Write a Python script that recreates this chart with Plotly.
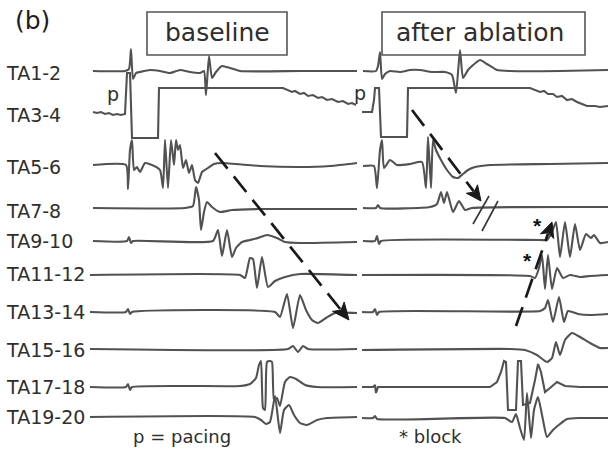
import plotly.graph_objects as go
import math

# ---------------- data (x = time position, y = trace level) -------------
channels = ["TA1-2", "TA3-4", "TA5-6", "TA7-8", "TA9-10", "TA11-12",
            "TA13-14", "TA15-16", "TA17-18", "TA19-20"]
label_y = [73, 115, 167, 211, 241, 274, 312, 350, 387, 417]

# baseline panel
b_ta1_2 = [(93,71),(125,71),(129,69),(131,49),(133,79),(136,73),(140,72),(150,70),(160,71),(170,73),
           (180,70),(190,72),(200,73),(204,71),(206,95),(209,56),(212,78),(216,72),(222,66),(230,68),
           (240,71),(300,71),(357,71)]
b_ta3_4 = [(93,112),(97,113),(101,112),(105,114),(109,113),(113,115),(117,114),(121,115),(125,114),
           (127,73),(130,73),(132,138),(158,138),(159,88),(283,88),(288,90),(292,92),(295,91),(300,94),
           (304,93),(308,96),(313,95),(318,98),(322,97),(327,100),(332,99),(338,102),(343,101),(348,104),
           (352,103),(356,105)]
b_ta5_6 = [(93,165),(126,165),(128,189),(130,150),(132,140),(134,170),(137,167),(140,172),(145,163),
           (152,165),(160,170),(163,188),(165,140),(168,188),(171,140),(174,165),(176,140),(178,150),
           (180,145),(183,168),(186,160),(189,173),(192,165),(195,180),(198,183),(202,172),(208,168),
           (214,164),(222,163),(260,166),(300,167),(330,166),(357,163)]
b_ta7_8 = [(93,208),(185,208),(193,206),(196,187),(199,200),(201,230),(204,212),(207,202),(212,207),
           (220,212),(232,210),(260,209),(357,209)]
b_ta9_10 = [(93,241),(127,241),(129,237),(131,243),(133,241),(213,241),(218,230),(222,256),(227,230),
            (232,257),(236,248),(242,242),(250,240),(258,238),(267,235),(277,238),(285,242),(300,243),
            (357,242)]
b_ta11_12 = [(90,275),(240,275),(245,278),(250,258),(253,259),(257,288),(262,257),(268,287),(275,281),
             (285,277),(300,274),(357,275)]
b_ta13_14 = [(90,312),(126,312),(128,309),(130,314),(132,312),(275,312),(280,317),(287,294),(293,328),
             (300,295),(306,310),(312,320),(318,323),(326,318),(335,313),(357,313)]
b_ta15_16 = [(90,349),(288,349),(293,346),(298,352),(303,346),(308,349),(357,349)]
b_ta17_18 = [(90,387),(126,387),(128,384),(130,390),(132,387),(240,386),(250,384),(256,378),(259,365),
             (261,361),(263,408),(265,410),(267,362),(270,361),(272,362),(274,400),(277,398),(280,406),
             (285,382),(290,377),(296,379),(305,385),(317,387),(357,387)]
b_ta19_20 = [(90,417),(255,417),(261,420),(266,424),(270,422),(275,396),(280,433),(284,410),(289,405),
             (294,415),(300,423),(307,425),(317,420),(327,418),(357,417)]

# after-ablation panel
a_ta1_2 = [(363,71),(376,71),(378,66),(380,52),(382,79),(385,74),(390,71),(400,72),(410,70),(420,70),
           (432,72),(445,72),(452,75),(456,93),(460,50),(463,78),(468,70),(472,66),(480,60),(487,64),
           (497,70),(510,71),(560,71),(608,70)]
a_ta3_4 = [(362,112),(372,112),(374,100),(375,88),(379,88),(381,137),(407,137),(408,88),(530,88),
           (535,90),(540,92),(544,91),(548,94),(553,94),(557,97),(562,96),(567,100),(572,99),(577,102),
           (582,104),(587,106),(595,106),(600,107),(608,106)]
a_ta5_6 = [(363,166),(374,166),(377,188),(380,150),(382,140),(384,168),(390,160),(397,165),(410,164),
           (422,162),(426,188),(428,137),(431,188),(433,140),(436,150),(441,160),(447,170),(453,177),
           (458,178),(463,174),(468,170),(475,167),(490,165),(550,164),(608,163)]
a_ta7_8 = [(363,208),(376,208),(378,205),(380,208),(430,207),(437,204),(441,192),(444,203),(447,192),
           (453,212),(459,201),(465,210),(472,208),(608,207)]
a_ta9_10 = [(363,241),(375,241),(377,236),(379,244),(381,241),(540,240),(547,240),(552,232),(556,222),
            (560,257),(565,222),(570,257),(575,224),(580,250),(586,234),(591,238),(594,235),(600,243),
            (608,242)]
a_ta11_12 = [(362,275),(530,276),(535,278),(539,268),(542,255),(545,289),(548,255),(552,289),(557,268),
             (563,278),(570,275),(580,277),(590,276),(608,275)]
a_ta13_14 = [(362,312),(373,312),(375,309),(377,315),(379,312),(540,311),(545,308),(548,300),(553,322),
             (559,297),(564,322),(568,311),(578,314),(590,315),(608,314)]
a_ta15_16 = [(362,350),(510,349),(525,350),(537,355),(547,362),(552,358),(556,342),(560,355),(565,340),
             (572,333),(580,337),(590,343),(600,348),(608,348)]
a_ta17_18 = [(362,387),(373,387),(375,385),(376,393),(378,387),(490,387),(497,382),(501,372),(504,361),
             (506,362),(508,410),(516,410),(518,361),(521,361),(523,405),(530,403),(535,380),(538,364),
             (541,372),(545,392),(550,388),(557,382),(565,386),(580,387),(608,387)]
a_ta19_20 = [(362,418),(373,418),(375,416),(377,419),(505,418),(512,422),(516,414),(520,428),(524,440),
             (527,393),(531,438),(534,410),(538,397),(543,420),(547,437),(553,430),(560,424),(567,419),
             (580,418),(608,418)]

baseline_traces = [b_ta1_2, b_ta3_4, b_ta5_6, b_ta7_8, b_ta9_10, b_ta11_12, b_ta13_14, b_ta15_16, b_ta17_18, b_ta19_20]
ablation_traces = [a_ta1_2, a_ta3_4, a_ta5_6, a_ta7_8, a_ta9_10, a_ta11_12, a_ta13_14, a_ta15_16, a_ta17_18, a_ta19_20]
pulse_traces = [b_ta3_4, a_ta3_4, a_ta17_18]   # saturated, square-edged recordings

# activation arrows (start, tip)
arrow_baseline = ((215, 153), (349, 320))
arrow_ablation = ((412, 110), (481, 201))
arrow_block = ((516, 326), (552, 222))
block_slashes = [((473, 224), (489, 196)), ((482, 231), (498, 201))]
stars = [(537, 221), (527, 256)]

# ---------------- figure ----------------
TRACE_COLOR = "#525252"
TEXT_COLOR = "#2e2e2e"
FONT = "DejaVu Sans"

fig = go.Figure()

for tr in baseline_traces + ablation_traces:
    is_pulse = any(tr is p for p in pulse_traces)
    fig.add_trace(go.Scatter(x=[p[0] for p in tr], y=[p[1] for p in tr], mode="lines",
                             line=dict(color=TRACE_COLOR, width=2.1,
                                       shape="linear" if is_pulse else "spline",
                                       smoothing=0 if is_pulse else 0.5),
                             hoverinfo="skip", showlegend=False))


def add_arrow(start, tip, head_len=17, head_w=7.5):
    (x0, y0), (x1, y1) = start, tip
    L = math.hypot(x1 - x0, y1 - y0)
    ux, uy = (x1 - x0) / L, (y1 - y0) / L
    px, py = -uy, ux
    bx, by = x1 - ux * head_len, y1 - uy * head_len
    fig.add_trace(go.Scatter(x=[x0, bx + ux * 3], y=[y0, by + uy * 3], mode="lines",
                             line=dict(color="#1a1a1a", width=2.7, dash="20px,10px"),
                             hoverinfo="skip", showlegend=False))
    nx, ny = x1 - ux * head_len * 0.75, y1 - uy * head_len * 0.75
    hx = [x1, bx + px * head_w, nx, bx - px * head_w, x1]
    hy = [y1, by + py * head_w, ny, by - py * head_w, y1]
    fig.add_trace(go.Scatter(x=hx, y=hy, mode="lines", fill="toself", fillcolor="#1a1a1a",
                             line=dict(color="#1a1a1a", width=1), hoverinfo="skip", showlegend=False))


add_arrow(*arrow_baseline)
add_arrow(*arrow_ablation, head_len=15, head_w=7)
add_arrow(*arrow_block, head_len=15, head_w=7)

for (s, e) in block_slashes:
    fig.add_trace(go.Scatter(x=[s[0], e[0]], y=[s[1], e[1]], mode="lines",
                             line=dict(color="#333333", width=1.6), hoverinfo="skip", showlegend=False))

shapes = [
    dict(type="rect", x0=147, x1=287, y0=12, y1=55, line=dict(color="#555555", width=1.6),
         fillcolor="rgba(255,255,255,0)", layer="above"),
    dict(type="rect", x0=382, x1=585, y0=12, y1=55, line=dict(color="#555555", width=1.6),
         fillcolor="rgba(255,255,255,0)", layer="above"),
]

annotations = []
for name, yy in zip(channels, label_y):
    annotations.append(dict(x=4, y=yy, text=name, showarrow=False, xanchor="left", yanchor="middle",
                            font=dict(family=FONT, size=19, color=TEXT_COLOR)))
annotations += [
    dict(x=13, y=20, text="(b)", showarrow=False, xanchor="left", yanchor="middle",
         font=dict(family=FONT, size=25, color="#1e1e1e")),
    dict(x=217, y=32, text="baseline", showarrow=False, xanchor="center", yanchor="middle",
         font=dict(family=FONT, size=25, color=TEXT_COLOR)),
    dict(x=480, y=32, text="after ablation", showarrow=False, xanchor="center", yanchor="middle",
         font=dict(family=FONT, size=25, color=TEXT_COLOR)),
    dict(x=113, y=94, text="p", showarrow=False, xanchor="center", yanchor="middle",
         font=dict(family=FONT, size=19, color=TEXT_COLOR)),
    dict(x=360, y=93, text="p", showarrow=False, xanchor="center", yanchor="middle",
         font=dict(family=FONT, size=19, color=TEXT_COLOR)),
    dict(x=182, y=436, text="p = pacing", showarrow=False, xanchor="center", yanchor="middle",
         font=dict(family=FONT, size=18, color=TEXT_COLOR)),
    dict(x=397, y=436, text="* block", showarrow=False, xanchor="left", yanchor="middle",
         font=dict(family=FONT, size=18, color=TEXT_COLOR)),
]
for (sx, sy) in stars:
    annotations.append(dict(x=sx, y=sy + 4, text="<b>*</b>", showarrow=False, xanchor="center",
                            yanchor="middle",
                            font=dict(family="Liberation Sans", size=21, color="#111111")))

fig.update_layout(
    width=608, height=453, autosize=False,
    margin=dict(l=0, r=0, t=0, b=0, pad=0),
    paper_bgcolor="white", plot_bgcolor="white",
    xaxis=dict(range=[0, 608], visible=False, fixedrange=True),
    yaxis=dict(range=[453, 0], visible=False, fixedrange=True),
    shapes=shapes, annotations=annotations, showlegend=False,
)

fig.write_html("out.html", config={"displayModeBar": False, "staticPlot": True},
               post_script="document.body.style.margin='0';document.body.style.overflow='hidden';")
